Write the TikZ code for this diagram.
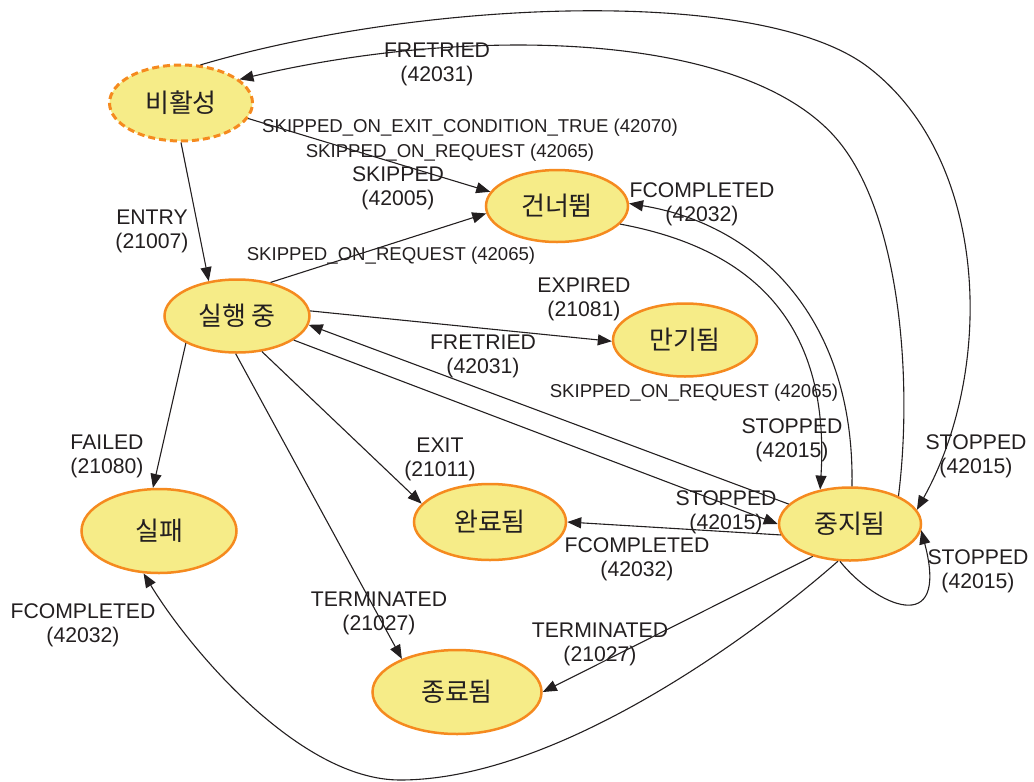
\documentclass[tikz,border=0pt]{standalone}
\usepackage{fontspec}
\setmainfont{Liberation Sans}
\newfontfamily\kofont{Noto Sans CJK KR}
\usetikzlibrary{shapes.geometric,arrows.meta,positioning}
\definecolor{statefill}{HTML}{F6EC88}
\definecolor{stateline}{HTML}{F58A1F}
\definecolor{textgray}{HTML}{231F20}
\tikzset
{
    state/.style    = {ellipse, draw=stateline, fill=statefill, line width=2.5pt, align=center, inner sep=0pt, text=textgray, font=\kofont\fontsize{26}{30}\selectfont},
    idlestate/.style = {state, dash pattern=on 7pt off 4pt, line width=3pt},
    trans/.style    = {align=center, inner sep=0pt, text=textgray, font=\fontsize{21.2}{24}\selectfont},
    translong/.style = {trans, font=\fontsize{18.6}{22}\selectfont},
    arrow/.style    = {line width=1.1pt, textgray, ->, >={Triangle[length=14pt, width=11pt]}}
}

\begin{document}
\begin{tikzpicture}[x=1pt, y=-1pt]
   \useasboundingbox (0,0) rectangle (1034,782);

   % states
   \node (inact) [idlestate, minimum width=143pt, minimum height=76pt]  at (181,103)   {비활성};
   \node (skip)  [state, minimum width=142pt, minimum height=72pt]      at (557,206)   {건너뜀};
   \node (run)   [state, minimum width=145pt, minimum height=73pt]      at (237,316)   {실행 중};
   \node (expd)  [state, minimum width=144pt, minimum height=73pt]      at (685,340)   {만기됨};
   \node (fail)  [state, minimum width=155pt, minimum height=84pt]      at (159,531)   {실패};
   \node (done)  [state, minimum width=152pt, minimum height=76pt]      at (490,522)   {완료됨};
   \node (stop)  [state, minimum width=142pt, minimum height=73pt]      at (850,524)   {중지됨};
   \node (term)  [state, minimum width=169pt, minimum height=84pt]      at (457,692)   {종료됨};

   % transition labels
   \node (lretrytop)  [trans]     at (437,64)   {FRETRIED\\(42031)};
   \node (lexitcond)  [translong] at (470,128)  {SKIPPED\_ON\_EXIT\_CONDITION\_TRUE (42070)};
   \node (lreqtop)    [translong] at (450,153)  {SKIPPED\_ON\_REQUEST (42065)};
   \node (lskipped)   [trans]     at (398,188)  {SKIPPED\\(42005)};
   \node (lentry)     [trans]     at (152,231)  {ENTRY\\(21007)};
   \node (lreqrun)    [translong] at (391,256)  {SKIPPED\_ON\_REQUEST (42065)};
   \node (lexpired)   [trans]     at (584,299)  {EXPIRED\\(21081)};
   \node (lretryrun)  [trans]     at (483,356)  {FRETRIED\\(42031)};
   \node (lreqstop)   [translong] at (694,393)  {SKIPPED\_ON\_REQUEST (42065)};
   \node (lcompskip)  [trans]     at (702,204)  {FCOMPLETED\\(42032)};
   \node (lstopskip)  [trans]     at (792,440)  {STOPPED\\(42015)};
   \node (lstopinact) [trans]     at (976,456)  {STOPPED\\(42015)};
   \node (lexit)      [trans]     at (440,459)  {EXIT\\(21011)};
   \node (lfailed)    [trans]     at (107,456)  {FAILED\\(21080)};
   \node (lstoprun)   [trans]     at (726,512)  {STOPPED\\(42015)};
   \node (lcompdone)  [trans]     at (637,559)  {FCOMPLETED\\(42032)};
   \node (lstopself)  [trans]     at (978,571)  {STOPPED\\(42015)};
   \node (lcompfail)  [trans]     at (83,625)   {FCOMPLETED\\(42032)};
   \node (ltermrun)   [trans]     at (379,613)  {TERMINATED\\(21027)};
   \node (ltermstop)  [trans]     at (600,644)  {TERMINATED\\(21027)};

   % bends of the long curves
   \coordinate (outbend)  at (868,67);
   \coordinate (innbend)  at (840,143);
   \coordinate (lowbend)  at (400,780);

   \path
      (inact.-13)   edge[arrow]  (skip.168)
      (inact.south) edge[arrow]  (run.129)
      (run.45)      edge[arrow]  (skip.186)
      (run.4)       edge[arrow]  (expd.181)
      (stop.162)    edge[arrow]  (run.-7)
      (run.-23)     edge[arrow]  (stop.180)
      (run.-55)     edge[arrow]  (done.165)
      (run.208)     edge[arrow]  (fail.98)
      (run.268)     edge[arrow]  (term.149)
      (stop.189)    edge[arrow]  (done.east)
      (stop.221)    edge[arrow]  (term.east);

   \draw[arrow] (skip.-16) .. controls (760,250) and (830,330) .. (stop.131);
   \draw[arrow] (stop.87) .. controls (855,320) and (760,225) .. (skip.2);
   \draw[arrow] (inact.63) .. controls (420,0) and (760,-15) .. (outbend) .. controls (990,160) and (995,370) .. (stop.12);
   \draw[arrow] (stop.30) .. controls (913,380) and (900,218) .. (innbend) .. controls (750,30) and (470,25) .. (inact.22);
   \draw[arrow] (stop.252) .. controls (760,630) and (560,780) .. (lowbend) .. controls (300,780) and (190,650) .. (fail.250);
   \draw[arrow] (stop.255) .. controls (875,605) and (950,640) .. (stop.-5);
\end{tikzpicture}
\end{document}
